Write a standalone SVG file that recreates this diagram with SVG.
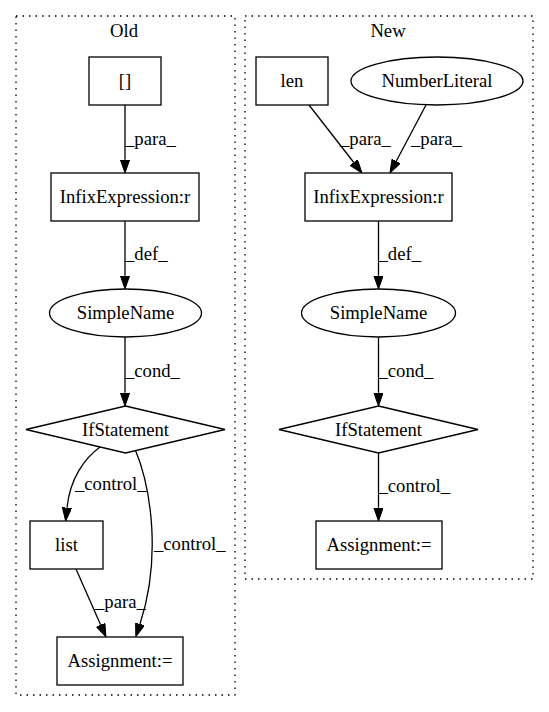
<svg xmlns="http://www.w3.org/2000/svg" width="549" height="712" viewBox="0 0 549 712" font-family="'Liberation Serif', 'Times New Roman', 'DejaVu Serif', serif" font-size="18.67">
<style>
text{font-family:"Liberation Serif","Times New Roman","DejaVu Serif",serif;font-size:18.67px;fill:#000}
.c{text-anchor:middle}
.n{fill:#fff;stroke:#000;stroke-width:1.3}
.e{fill:none;stroke:#000;stroke-width:1.3}
.cl{fill:none;stroke:#000;stroke-width:1.3;stroke-dasharray:1.5,5}
</style>
<defs>
<marker id="a" markerUnits="userSpaceOnUse" markerWidth="15" markerHeight="11" refX="0" refY="4.67" orient="auto">
<path d="M0,0 L13.3,4.67 L0,9.33 z" fill="#000" stroke="#000" stroke-width="1"/>
</marker>
</defs>
<rect width="549" height="712" fill="#fff"/>
<g id="cluster_old">
<rect class="cl" x="16" y="16" width="219" height="679"/>
<text class="c" x="124" y="37">Old</text>
</g>
<g id="cluster_new">
<rect class="cl" x="245" y="16" width="288" height="563"/>
<text class="c" x="388" y="37">New</text>
</g>
<g id="edges">
<path class="e" marker-end="url(#a)" d="M125,105 L125,159.7"/>
<text x="125" y="145">_para_</text>
<path class="e" marker-end="url(#a)" d="M125,221 L125,275.7"/>
<text x="125" y="260">_def_</text>
<path class="e" marker-end="url(#a)" d="M125,337 L125,392.7"/>
<text x="125" y="377">_cond_</text>
<path class="e" marker-end="url(#a)" d="M100,447 C85,458 70,478 67,507.7"/>
<text x="75" y="490">_control_</text>
<path class="e" marker-end="url(#a)" d="M135,449 C152,490 161,560 140,624"/>
<text x="154" y="550">_control_</text>
<path class="e" marker-end="url(#a)" d="M76,569 L100.6,624.8"/>
<text x="95" y="608">_para_</text>
<path class="e" marker-end="url(#a)" d="M309,105 L353.8,162.5"/>
<text x="340" y="145">_para_</text>
<path class="e" marker-end="url(#a)" d="M426,105 L396.2,161.2"/>
<text x="411" y="145">_para_</text>
<path class="e" marker-end="url(#a)" d="M378.5,221 L378.5,275.7"/>
<text x="378.5" y="260">_def_</text>
<path class="e" marker-end="url(#a)" d="M378.5,337 L378.5,392.7"/>
<text x="378.5" y="377">_cond_</text>
<path class="e" marker-end="url(#a)" d="M378.5,453 L378.5,507.7"/>
<text x="378.5" y="492">_control_</text>
</g>
<g id="old_brackets">
<rect class="n" x="89" y="57" width="72" height="48"/>
<text class="c" x="125" y="87">[]</text>
</g>
<g id="old_infix">
<rect class="n" x="51" y="173" width="148" height="48"/>
<text class="c" x="125" y="203">InfixExpression:r</text>
</g>
<g id="old_simplename">
<ellipse class="n" cx="125.5" cy="313" rx="76" ry="24"/>
<text class="c" x="125.5" y="319">SimpleName</text>
</g>
<g id="old_if">
<polygon class="n" points="125.5,406 225,429.5 125.5,453 26,429.5"/>
<text class="c" x="125.5" y="435.5">IfStatement</text>
</g>
<g id="old_list">
<rect class="n" x="30" y="521" width="73" height="48"/>
<text class="c" x="66.5" y="551">list</text>
</g>
<g id="old_assign">
<rect class="n" x="57" y="637" width="126" height="48"/>
<text class="c" x="120" y="667">Assignment:=</text>
</g>
<g id="new_len">
<rect class="n" x="256" y="57" width="72" height="48"/>
<text class="c" x="292" y="87">len</text>
</g>
<g id="new_numberliteral">
<ellipse class="n" cx="437" cy="81" rx="86" ry="24"/>
<text class="c" x="437" y="87">NumberLiteral</text>
</g>
<g id="new_infix">
<rect class="n" x="305" y="173" width="147" height="48"/>
<text class="c" x="378.5" y="203">InfixExpression:r</text>
</g>
<g id="new_simplename">
<ellipse class="n" cx="378.5" cy="313" rx="77" ry="24"/>
<text class="c" x="378.5" y="319">SimpleName</text>
</g>
<g id="new_if">
<polygon class="n" points="378.5,406 478,429.5 378.5,453 279,429.5"/>
<text class="c" x="378.5" y="435.5">IfStatement</text>
</g>
<g id="new_assign">
<rect class="n" x="316" y="521" width="126" height="48"/>
<text class="c" x="379" y="551">Assignment:=</text>
</g>
</svg>
